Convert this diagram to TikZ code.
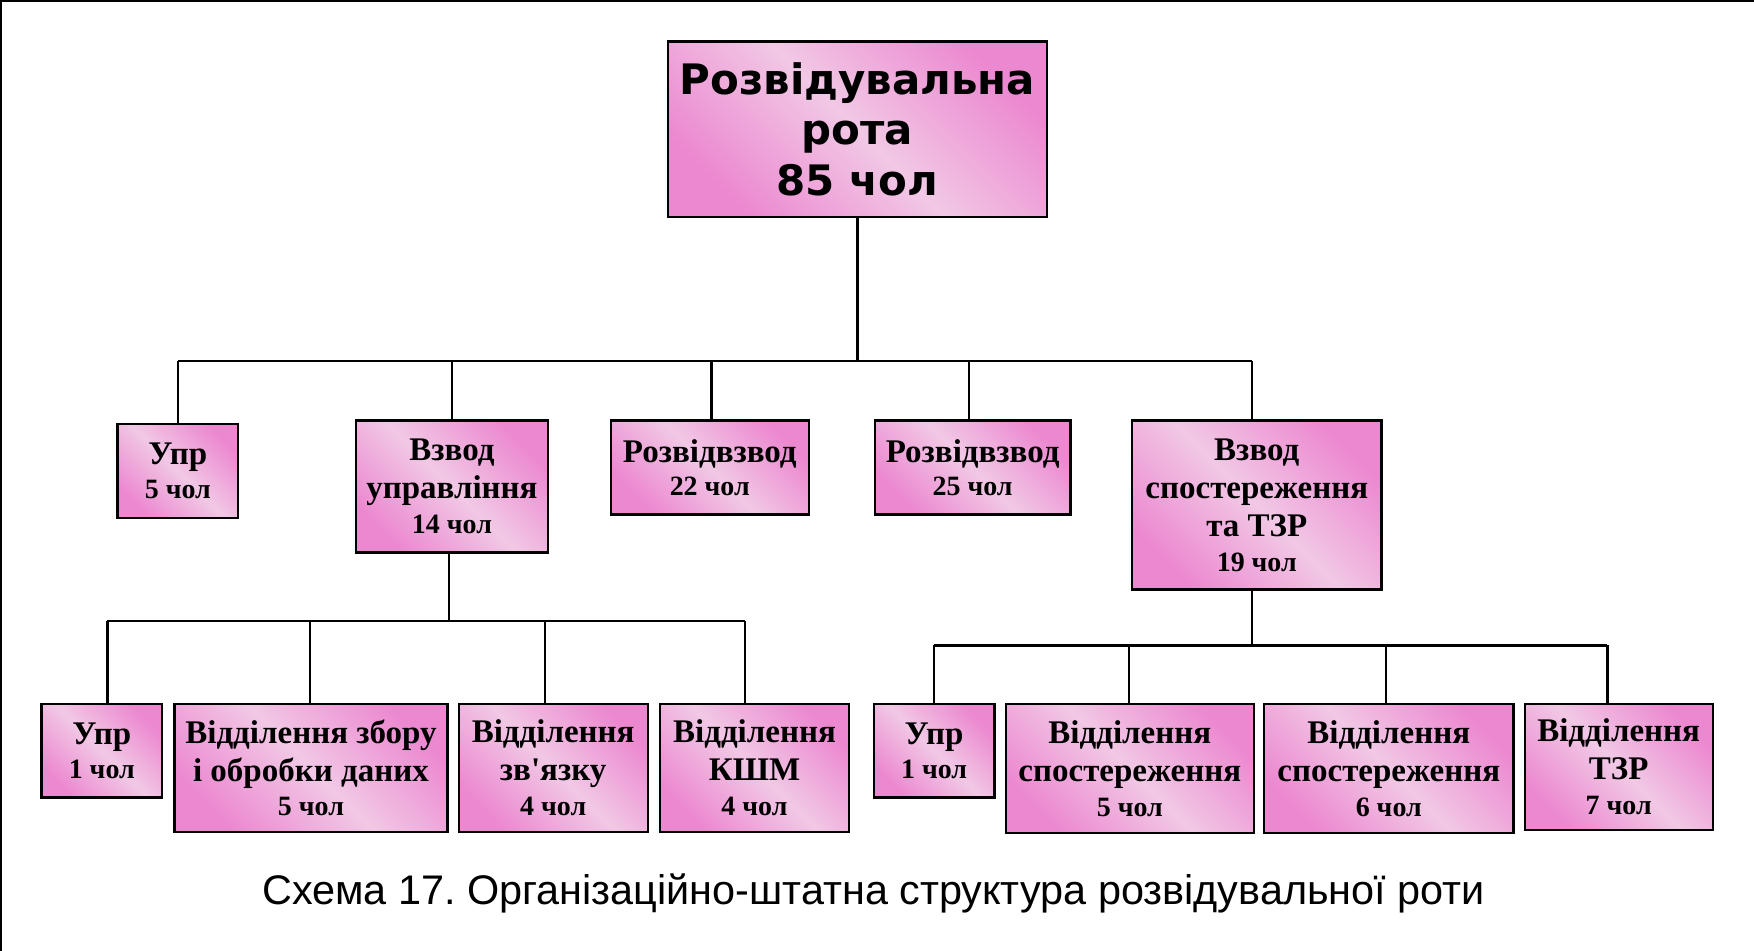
\documentclass[tikz,border=0pt]{standalone}
\usepackage{fontspec}
\setmainfont{Liberation Serif}
\newfontfamily\capfont{Liberation Sans}
\newfontfamily\topfont{DejaVu Sans}
\definecolor{pinkD}{RGB}{236,136,208}
\definecolor{pinkL}{RGB}{241,200,229}
\newcommand\mainf{\bfseries\fontsize{29.5}{34}\selectfont}
\newcommand\cntf{\fontsize{25}{28}\selectfont}
\frenchspacing
\begin{document}
\begin{tikzpicture}[x=1pt,y=-1pt,
  box/.style={draw=black, line width=2pt, top color=pinkD, bottom color=pinkD,
    middle color=pinkL, shading angle=-45, inner sep=0pt, align=center, font=\mainf},
  conn/.style={line width=2pt, draw=black},
  frame/.style={line width=1.5pt, draw=black}]
\useasboundingbox (0,0) rectangle (1568,850);
\draw[frame] (0.75,850) -- (0.75,0.75) -- (1568,0.75);

% top
\node[box, minimum width=339, minimum height=157,
  font=\topfont\bfseries\fontsize{37.5}{45}\selectfont] (top) at (766.5,115.5)
  {Розвідувальна\\рота\\85 чол};

% level 2
\node[box, minimum width=108, minimum height=84] (u1) at (159,421) {Упр\\[-4pt]{\cntf 5 чол}};
\node[box, minimum width=172, minimum height=118] (vu) at (404,435) {Взвод\\управління\\[-3pt]{\cntf 14 чол}};
\node[box, minimum width=177, minimum height=84] (r22) at (634.5,418) {Розвідвзвод\\[-4pt]{\cntf 22 чол}};
\node[box, minimum width=175, minimum height=84] (r25) at (869.5,418) {Розвідвзвод\\[-4pt]{\cntf 25 чол}};
\node[box, minimum width=223, minimum height=151] (vs) at (1123.5,451.5) {Взвод\\спостереження\\та ТЗР\\[-3pt]{\cntf 19 чол}};

% level 3 left
\node[box, minimum width=108, minimum height=84] (u2) at (91,671) {Упр\\[-4pt]{\cntf 1 чол}};
\node[box, minimum width=244, minimum height=115] (zb) at (278,686.5) {Відділення збору\\і обробки даних\\[-3pt]{\cntf 5 чол}};
\node[box, minimum width=169, minimum height=115] (zv) at (494.5,686.5) {Відділення\\зв\textquotesingle язку\\[-3pt]{\cntf 4 чол}};
\node[box, minimum width=169, minimum height=115] (ks) at (674.5,686.5) {Відділення\\КШМ\\[-3pt]{\cntf 4 чол}};

% level 3 right
\node[box, minimum width=108, minimum height=84] (u3) at (835,671) {Упр\\[-4pt]{\cntf 1 чол}};
\node[box, minimum width=222, minimum height=116] (s5) at (1010,687) {Відділення\\спостереження\\[-3pt]{\cntf 5 чол}};
\node[box, minimum width=223, minimum height=116] (s6) at (1241.5,687) {Відділення\\спостереження\\[-3pt]{\cntf 6 чол}};
\node[box, minimum width=168, minimum height=113] (tz) at (1447,685.5) {Відділення\\ТЗР\\[-3pt]{\cntf 7 чол}};

% buses
\coordinate (b1) at (0,323);
\coordinate (b2) at (0,555);
\coordinate (b3) at (0,577);

\draw[conn] (top.south) -- (top.south |- b1);
\draw[conn] (u1.north |- b1) -- ([xshift=-4.5pt]vs.north |- b1);
\draw[conn] (u1.north) -- (u1.north |- b1);
\draw[conn] (vu.north) -- (vu.north |- b1);
\draw[conn] ([xshift=1.5pt]r22.north) -- ([xshift=1.5pt]r22.north |- b1);
\draw[conn] ([xshift=-3.5pt]r25.north) -- ([xshift=-3.5pt]r25.north |- b1);
\draw[conn] ([xshift=-4.5pt]vs.north) -- ([xshift=-4.5pt]vs.north |- b1);

\draw[conn] ([xshift=-2.5pt]vu.south) -- ([xshift=-2.5pt]vu.south |- b2);
\draw[conn] ([xshift=5pt]u2.north |- b2) -- ([xshift=-8.5pt]ks.north |- b2);
\draw[conn] ([xshift=5pt]u2.north) -- ([xshift=5pt]u2.north |- b2);
\draw[conn] ([xshift=-1pt]zb.north) -- ([xshift=-1pt]zb.north |- b2);
\draw[conn] ([xshift=-7.5pt]zv.north) -- ([xshift=-7.5pt]zv.north |- b2);
\draw[conn] ([xshift=-8.5pt]ks.north) -- ([xshift=-8.5pt]ks.north |- b2);

\draw[conn] ([xshift=-4.5pt]vs.south) -- ([xshift=-4.5pt]vs.south |- b3);
\draw[conn] (u3.north |- b3) -- ([xshift=-10pt]tz.north |- b3);
\draw[conn] (u3.north) -- (u3.north |- b3);
\draw[conn] ([xshift=-1pt]s5.north) -- ([xshift=-1pt]s5.north |- b3);
\draw[conn] ([xshift=-2.5pt]s6.north) -- ([xshift=-2.5pt]s6.north |- b3);
\draw[conn] ([xshift=-10pt]tz.north) -- ([xshift=-10pt]tz.north |- b3);

% caption
\node[font=\capfont\fontsize{37}{40}\selectfont, anchor=base, inner sep=0pt] (cap) at (781,809)
  {Схема 17. Організаційно-штатна структура розвідувальної роти};
\end{tikzpicture}
\end{document}
